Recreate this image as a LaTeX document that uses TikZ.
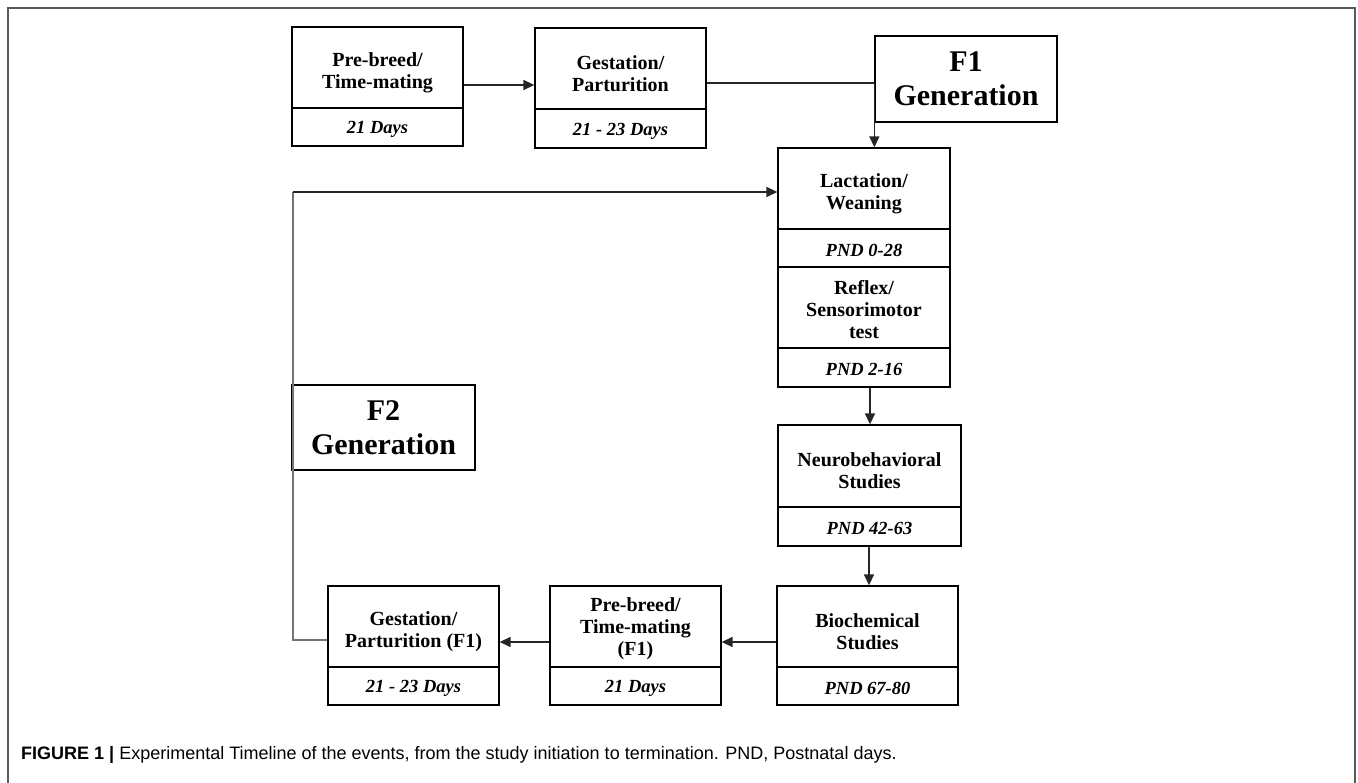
\documentclass[tikz,border=0pt]{standalone}
\usepackage{fontspec}
\setmainfont{Liberation Serif}
\newfontfamily\capfont{Liberation Sans}
\usetikzlibrary{arrows.meta}
\newcommand\tstrut{\rule{0pt}{24pt}}
\newcommand\ttstrut{\rule{0pt}{19pt}}
\newcommand\dstrut{\rule{0pt}{17pt}}
\begin{document}
\begin{tikzpicture}[x=1pt,y=-1pt,
  boxtxt/.style={draw=black, line width=1.3pt, inner sep=0pt, align=center,
    font=\fontsize{20}{22}\selectfont\bfseries},
  daytxt/.style={boxtxt, font=\fontsize{18.5}{21}\selectfont\bfseries\itshape},
  gentxt/.style={draw=black, line width=1.3pt, inner sep=0pt, align=center,
    font=\fontsize{30}{34}\selectfont\bfseries},
  conn/.style={line width=1.4pt, draw=black!85},
  arr/.style={conn, -{Triangle[length=11pt,width=10pt]}},
  greyline/.style={line width=1.5pt, draw=black!55},
]
\useasboundingbox (0,0) rectangle (1358,783);
% outer frame
\draw[line width=1.8pt, draw=black!65] (8,783) -- (8,8) -- (1355,8) -- (1355,783);

% top row
\node[boxtxt, minimum width=171pt, minimum height=81pt] (A1) at (377.5,67.5) {\tstrut Pre-breed/\\Time-mating};
\node[daytxt, minimum width=171pt, minimum height=38pt] (A2) at (377.5,127) {\dstrut 21 Days};
\node[boxtxt, minimum width=171pt, minimum height=81pt] (B1) at (620.5,68.5) {\tstrut Gestation/\\Parturition};
\node[daytxt, minimum width=171pt, minimum height=39pt] (B2) at (620.5,128.5) {\dstrut 21 - 23 Days};
\node[gentxt, minimum width=182pt, minimum height=86pt, fill=white] (F1) at (966,79) {F1\\Generation};

% right column
\node[boxtxt, minimum width=172pt, minimum height=81pt] (L1) at (864,188.5) {\tstrut Lactation/\\Weaning};
\node[daytxt, minimum width=172pt, minimum height=38pt] (L2) at (864,248) {\dstrut PND 0-28};
\node[boxtxt, minimum width=172pt, minimum height=81pt] (L3) at (864,307.5) {\ttstrut Reflex/\\Sensorimotor\\test};
\node[daytxt, minimum width=172pt, minimum height=39pt] (L4) at (864,367.5) {\dstrut PND 2-16};

\node[boxtxt, minimum width=183pt, minimum height=82pt] (N1) at (869.5,466) {\tstrut Neurobehavioral\\Studies};
\node[daytxt, minimum width=183pt, minimum height=39pt] (N2) at (869.5,526.5) {\dstrut PND 42-63};

% bottom row
\node[boxtxt, minimum width=181pt, minimum height=81pt] (Bi1) at (867.5,626.5) {\tstrut Biochemical\\Studies};
\node[daytxt, minimum width=181pt, minimum height=38pt] (Bi2) at (867.5,686) {\dstrut PND 67-80};
\node[boxtxt, minimum width=171pt, minimum height=81pt] (P1) at (635.5,626.5) {\ttstrut Pre-breed/\\Time-mating\\(F1)};
\node[daytxt, minimum width=171pt, minimum height=38pt] (P2) at (635.5,686) {\dstrut 21 Days};
\node[boxtxt, minimum width=171pt, minimum height=81pt] (G1) at (413.5,626.5) {\tstrut Gestation/\\Parturition (F1)};
\node[daytxt, minimum width=171pt, minimum height=38pt] (G2) at (413.5,686) {\dstrut 21 - 23 Days};

\node[gentxt, minimum width=183pt, minimum height=85pt] (F2) at (383.5,427.5) {F2\\Generation};

% connectors
\draw[arr] (A1.east |- 0,85) -- (B1.west |- 0,85);
\coordinate (f1c) at (F1.west |- 0,83);
\draw[conn] (B1.east |- 0,83) -- (f1c);
\draw[arr] (f1c) -- (f1c |- L1.north);
\draw[arr] (L4.south -| 870,0) -- (N1.north -| 870,0);
\draw[arr] (N2.south -| 869,0) -- (Bi1.north -| 869,0);
\draw[arr] (Bi1.west |- 0,642) -- (P1.east |- 0,642);
\draw[arr] (P1.west |- 0,642) -- (G1.east |- 0,642);
\coordinate (c1) at (293,640);
\coordinate (c2) at (293,192);
\draw[greyline] (G1.west |- 0,640) -- (c1) -- (c2);
\draw[arr] (c2) -- (L1.west |- 0,192);

% caption
\node[anchor=west, inner sep=0pt, font=\capfont\fontsize{18}{21}\selectfont] (cap) at (21,755)
  {\textbf{FIGURE 1 |} Experimental Timeline of the events, from the study initiation to termination. PND, Postnatal days.};
\end{tikzpicture}
\end{document}
